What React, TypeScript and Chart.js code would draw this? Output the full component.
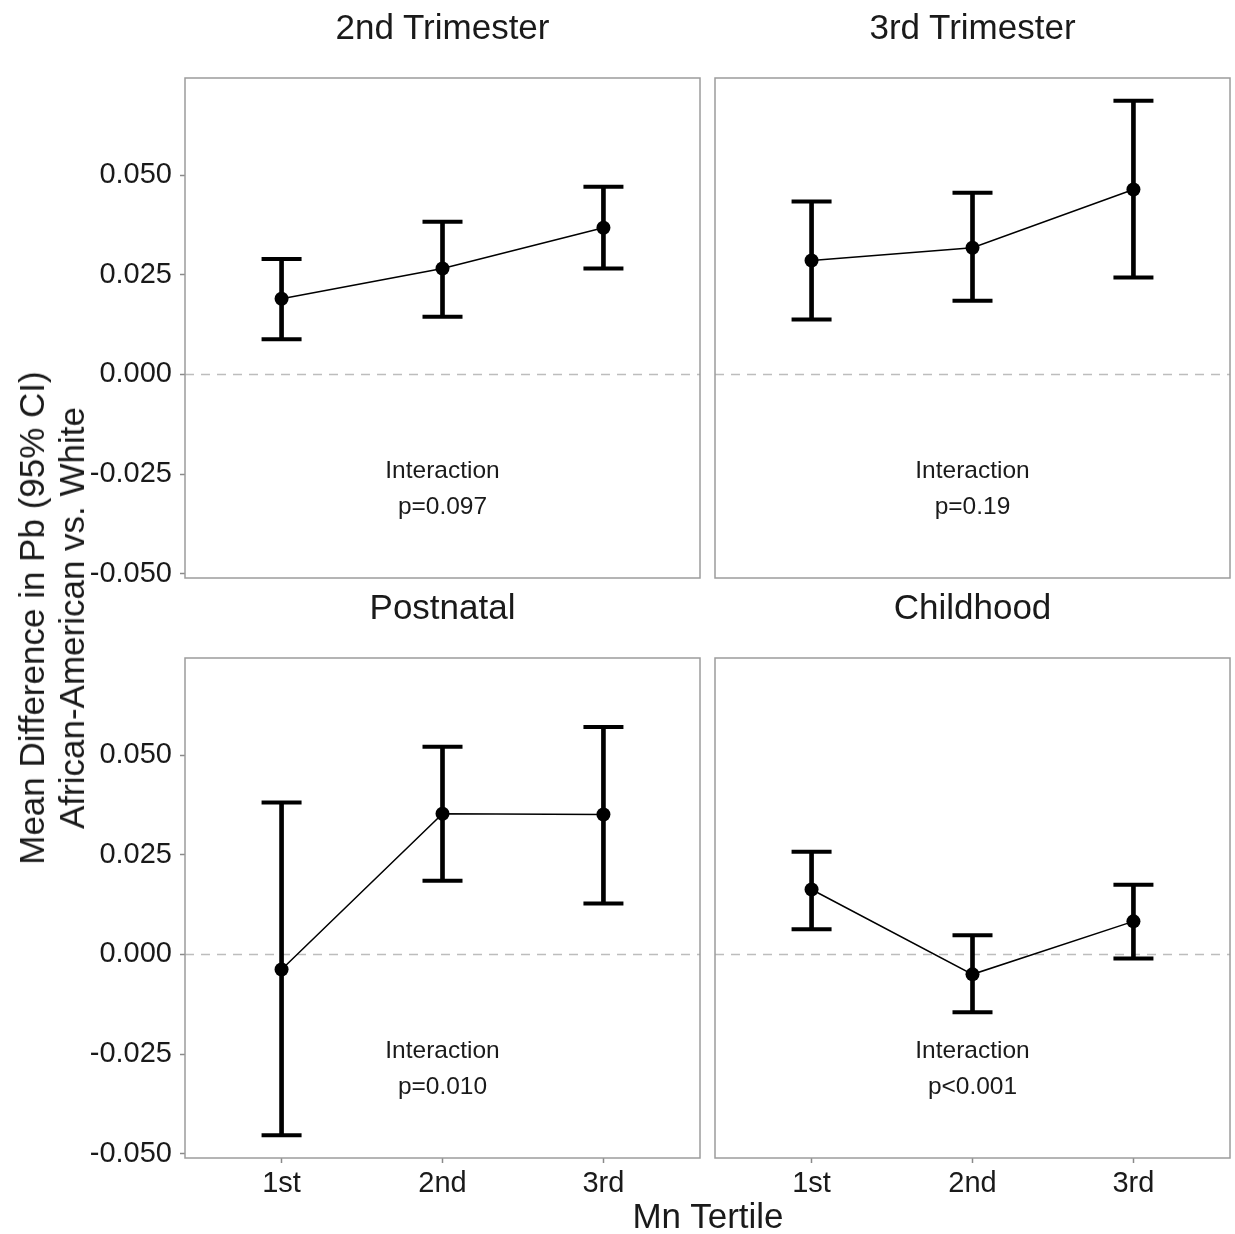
import React, { useEffect, useRef } from 'react';
import { Chart, registerables } from 'chart.js';

Chart.register(...registerables);

// ---------- data ----------
const tertileLabels = ['1st', '2nd', '3rd'];
const tertilePositions = [1, 2, 3];
const yTickValues = [-0.05, -0.025, 0, 0.025, 0.05];

const panelTitles = ['2nd Trimester', '3rd Trimester', 'Postnatal', 'Childhood'];
const interactionP = ['p=0.097', 'p=0.19', 'p=0.010', 'p<0.001'];

const trim2Mean = [0.019, 0.0266, 0.0368];
const trim2Lower = [0.0088, 0.0145, 0.0266];
const trim2Upper = [0.029, 0.0383, 0.0471];

const trim3Mean = [0.0286, 0.0318, 0.0464];
const trim3Lower = [0.0138, 0.0185, 0.0243];
const trim3Upper = [0.0434, 0.0456, 0.0687];

const postMean = [-0.0038, 0.0353, 0.0351];
const postLower = [-0.0454, 0.0185, 0.0128];
const postUpper = [0.0381, 0.0521, 0.0571];

const childMean = [0.0163, -0.005, 0.0083];
const childLower = [0.0063, -0.0145, -0.001];
const childUpper = [0.0258, 0.0048, 0.0175];

const Y_MIN = -0.0511;
const Y_MAX = 0.0744;
const X_MIN = 0.4;
const X_MAX = 3.6;

// ---------- layout ----------
const W = 1235;
const H = 1234;
const CW = 1300; // canvas width (wider than page so edge labels never squeeze the plot area)
const CH = 1280;
const Y_AXIS_W = 140;
const X_AXIS_H = 50;
const FONT = '"Liberation Sans", Arial, Helvetica, sans-serif';
const TEXT = '#1a1a1a';

const panels = [
  { left: 185, top: 78, right: 700, bottom: 578, showY: true, showX: false, mean: trim2Mean, lower: trim2Lower, upper: trim2Upper },
  { left: 715, top: 78, right: 1230, bottom: 578, showY: false, showX: false, mean: trim3Mean, lower: trim3Lower, upper: trim3Upper },
  { left: 185, top: 658, right: 700, bottom: 1158, showY: true, showX: true, mean: postMean, lower: postLower, upper: postUpper },
  { left: 715, top: 658, right: 1230, bottom: 1158, showY: false, showX: true, mean: childMean, lower: childLower, upper: childUpper },
];

const panelBorder = {
  id: 'panelBorder',
  afterDraw(chart: any) {
    const { ctx, chartArea: a } = chart;
    ctx.save();
    ctx.strokeStyle = '#9c9c9c';
    ctx.lineWidth = 1.5;
    ctx.strokeRect(a.left, a.top, a.right - a.left, a.bottom - a.top);
    ctx.restore();
  },
};

function Panel({ p }: { p: any }) {
  const ref = useRef<HTMLCanvasElement>(null);
  useEffect(() => {
    if (!ref.current) return;
    const chart = new Chart(ref.current, {
      type: 'scatter',
      data: {
        datasets: [
          {
            type: 'line',
            data: [
              { x: X_MIN, y: 0 },
              { x: X_MAX, y: 0 },
            ],
            borderColor: '#bdbdbd',
            borderWidth: 1.5,
            borderDash: [9, 7],
            pointRadius: 0,
            order: 10,
          } as any,
          {
            type: 'bar',
            data: tertilePositions.map((x, i) => ({ x, y: [p.lower[i], p.upper[i]] })),
            backgroundColor: '#000',
            borderWidth: 0,
            barThickness: 4,
            grouped: false,
            order: 3,
          } as any,
          {
            type: 'scatter',
            data: [
              ...tertilePositions.map((x, i) => ({ x, y: p.lower[i] })),
              ...tertilePositions.map((x, i) => ({ x, y: p.upper[i] })),
            ],
            pointStyle: 'line',
            pointRadius: 20,
            borderWidth: 4,
            borderColor: '#000',
            order: 2,
          } as any,
          {
            type: 'line',
            data: tertilePositions.map((x, i) => ({ x, y: p.mean[i] })),
            borderColor: '#000',
            borderWidth: 1.5,
            pointRadius: 7,
            pointBackgroundColor: '#000',
            pointBorderWidth: 0,
            tension: 0,
            order: 1,
          } as any,
        ],
      },
      options: {
        animation: false,
        responsive: false,
        maintainAspectRatio: false,
        layout: {
          padding: {
            left: p.showY ? p.left - Y_AXIS_W : p.left,
            top: p.top,
            right: CW - p.right,
            bottom: p.showX ? CH - p.bottom - X_AXIS_H : CH - p.bottom,
          },
        },
        plugins: { legend: { display: false }, tooltip: { enabled: false }, title: { display: false } },
        scales: {
          x: {
            type: 'linear',
            display: p.showX,
            offset: false,
            min: X_MIN,
            max: X_MAX,
            afterBuildTicks: (s: any) => {
              s.ticks = tertilePositions.map((v) => ({ value: v }));
            },
            afterFit: (s: any) => {
              s.height = p.showX ? X_AXIS_H : 0;
            },
            ticks: {
              callback: (_v: any, i: number) => tertileLabels[i],
              font: { family: FONT, size: 29 },
              color: TEXT,
              padding: 4,
              maxRotation: 0,
              autoSkip: false,
            },
            grid: { offset: false, drawOnChartArea: false, drawTicks: true, tickLength: 5, tickColor: '#8a8a8a', tickWidth: 1.5 },
            border: { display: false },
          },
          y: {
            type: 'linear',
            display: p.showY,
            min: Y_MIN,
            max: Y_MAX,
            afterBuildTicks: (s: any) => {
              s.ticks = yTickValues.map((v) => ({ value: v }));
            },
            afterFit: (s: any) => {
              s.width = p.showY ? Y_AXIS_W : 0;
            },
            ticks: {
              callback: (v: any) => Number(v).toFixed(3),
              font: { family: FONT, size: 29 },
              color: TEXT,
              padding: 8,
              autoSkip: false,
            },
            grid: { drawOnChartArea: false, drawTicks: true, tickLength: 5, tickColor: '#8a8a8a', tickWidth: 1.5 },
            border: { display: false },
          },
        },
      } as any,
      plugins: [panelBorder],
    });
    return () => chart.destroy();
  }, [p]);
  return (
    <canvas
      ref={ref}
      width={CW}
      height={CH}
      style={{ position: 'absolute', left: 0, top: 0, width: CW, height: CH }}
    />
  );
}

export default function App() {
  const centerX = (p: any) => (p.left + p.right) / 2;
  return (
    <div style={{ position: 'absolute', left: 0, top: 0, width: W, height: H, background: '#fff', overflow: 'hidden', fontFamily: FONT, color: TEXT }}>
      {panels.map((p, i) => (
        <Panel key={'c' + i} p={p} />
      ))}
      {panels.map((p, i) => (
        <div
          key={'t' + i}
          style={{ position: 'absolute', left: centerX(p), top: p.top - 51, transform: 'translate(-50%, -50%)', fontSize: 35, whiteSpace: 'nowrap' }}
        >
          {panelTitles[i]}
        </div>
      ))}
      {panels.map((p, i) => (
        <div
          key={'a' + i}
          style={{ position: 'absolute', left: centerX(p), top: p.top + 410, transform: 'translate(-50%, -50%)', fontSize: 24.5, lineHeight: '36px', textAlign: 'center', whiteSpace: 'nowrap' }}
        >
          <div>Interaction</div>
          <div>{interactionP[i]}</div>
        </div>
      ))}
      <div
        style={{ position: 'absolute', left: 52, top: 618, transform: 'translate(-50%, -50%) rotate(-90deg)', fontSize: 35, lineHeight: '40px', textAlign: 'center', whiteSpace: 'nowrap' }}
      >
        <div>Mean Difference in Pb (95% CI)</div>
        <div>African-American vs. White</div>
      </div>
      <div style={{ position: 'absolute', left: 708, top: 1216, transform: 'translate(-50%, -50%)', fontSize: 35, whiteSpace: 'nowrap' }}>
        Mn Tertile
      </div>
    </div>
  );
}
